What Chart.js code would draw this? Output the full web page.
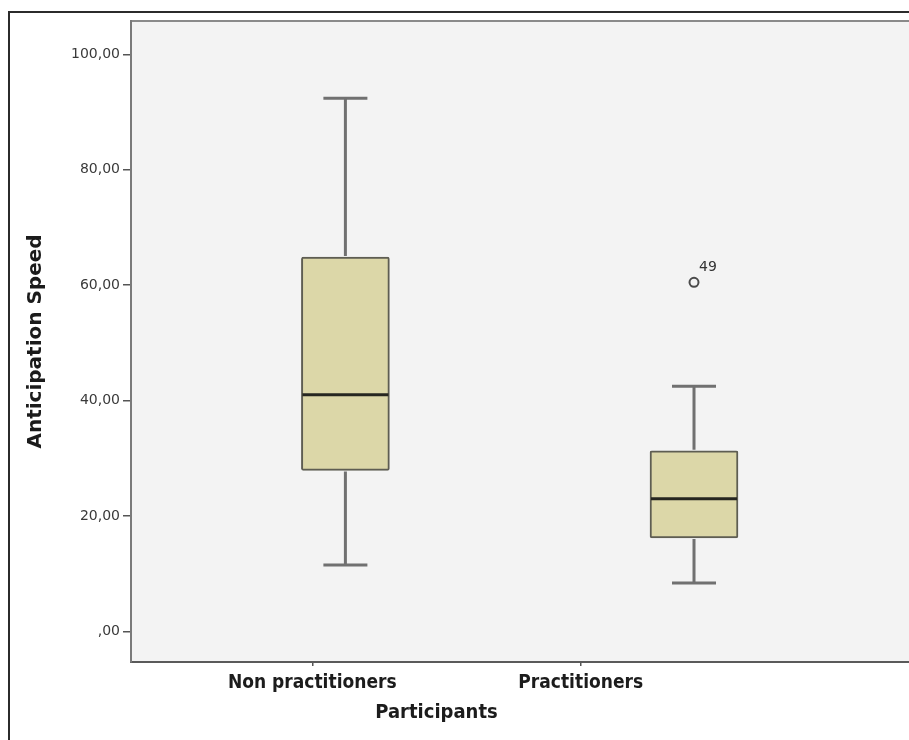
<!DOCTYPE html>
<html>
<head>
<meta charset="utf-8">
<title>Anticipation Speed by Participants</title>
<script src="https://cdn.jsdelivr.net/npm/chart.js@4.4.1/dist/chart.umd.min.js"></script>
<style>
    html, body { margin: 0; padding: 0; background: #fff; overflow: hidden; }
    #frame {
        position: absolute; left: 8px; top: 11px; width: 1000px; height: 800px;
        border-left: 2px solid #2b2b2b; border-top: 2px solid #2b2b2b;
    }
    #chart { position: absolute; left: 0; top: 0; }
</style>
</head>
<body>
<div id="frame"></div>
<canvas id="chart" width="940" height="740"></canvas>
<script>
// Datos del diagrama de caja
const groups = ["Non practitioners", "Practitioners"];
const groupX = [1, 2];
const whiskerLow = [11.5, 8.4];
const q1 = [27.9, 16.2];
const median = [41.0, 23.0];
const q3 = [64.9, 31.3];
const whiskerHigh = [92.4, 42.5];
const outlierGroup = [2];
const outlierValues = [60.5];
const outlierIds = ["49"];
const yTicks = [0, 20, 40, 60, 80, 100];
const xTitle = "Participants";
const yTitle = "Anticipation Speed";

// Posición de las etiquetas del eje X (como en el original, no centradas en las cajas)
const labelAt = [0.905, 1.675];

function formatComma(v) {
    const s = v.toFixed(2).replace(".", ",");
    return v === 0 ? s.slice(1) : s;
}

// Bigotes, mediana, etiqueta del atípico y título del eje X
const boxPlot = {
    id: "boxPlot",
    beforeDraw(chart) {
        const { ctx, chartArea: a } = chart;
        ctx.save();
        ctx.fillStyle = "#f3f3f3";
        ctx.fillRect(a.left, a.top, a.right - a.left, a.bottom - a.top);
        ctx.strokeStyle = "#8a8a8a";
        ctx.lineWidth = 2;
        ctx.beginPath();
        ctx.moveTo(a.left, a.top);
        ctx.lineTo(a.right, a.top);
        ctx.stroke();
        ctx.restore();
    },
    afterDatasetsDraw(chart) {
        const { ctx, scales } = chart;
        const y = scales.y;
        const bars = chart.getDatasetMeta(0).data;
        ctx.save();
        bars.forEach((bar, i) => {
            const cx = bar.x;
            const half = bar.width / 2;
            const cap = bar.width / 4;
            const yLo = y.getPixelForValue(whiskerLow[i]);
            const yQ1 = y.getPixelForValue(q1[i]);
            const yQ3 = y.getPixelForValue(q3[i]);
            const yHi = y.getPixelForValue(whiskerHigh[i]);
            const yMed = y.getPixelForValue(median[i]);

            ctx.strokeStyle = "#707070";
            ctx.lineWidth = 3;
            ctx.beginPath();
            ctx.moveTo(cx, yQ3 - 1); ctx.lineTo(cx, yHi);
            ctx.moveTo(cx, yQ1 + 1); ctx.lineTo(cx, yLo);
            ctx.moveTo(cx - cap, yHi); ctx.lineTo(cx + cap, yHi);
            ctx.moveTo(cx - cap, yLo); ctx.lineTo(cx + cap, yLo);
            ctx.stroke();

            ctx.strokeStyle = "#262620";
            ctx.lineWidth = 3;
            ctx.beginPath();
            ctx.moveTo(cx - half + 1, yMed);
            ctx.lineTo(cx + half - 1, yMed);
            ctx.stroke();
        });

        const pts = chart.getDatasetMeta(1).data;
        ctx.fillStyle = "#333";
        ctx.font = "14px 'DejaVu Sans'";
        ctx.textAlign = "left";
        ctx.textBaseline = "middle";
        pts.forEach((p, i) => {
            ctx.fillText(outlierIds[i], p.x + 5, p.y - 15);
        });

        const x = scales.x;
        const tx = (x.getPixelForValue(labelAt[0]) + x.getPixelForValue(labelAt[1])) / 2 - 10;
        ctx.fillStyle = "#1c1c1c";
        ctx.font = "bold 20px 'Liberation Sans Narrow', 'DejaVu Sans Condensed', sans-serif";
        ctx.textAlign = "center";
        ctx.fillText(xTitle, tx, chart.chartArea.bottom + 51);
        ctx.restore();
    }
};

const ctx = document.getElementById("chart").getContext("2d");
new Chart(ctx, {
    type: "bar",
    data: {
        datasets: [
            {
                type: "bar",
                data: groupX.map((x, i) => ({ x: x, y: [q1[i], q3[i]] })),
                backgroundColor: "#dcd7a8",
                borderColor: "#5e5d52",
                borderWidth: 2,
                borderSkipped: false,
                borderRadius: 2,
                barThickness: 88,
            },
            {
                type: "scatter",
                data: outlierValues.map((v, i) => ({ x: outlierGroup[i], y: v })),
                pointRadius: 4.5,
                pointBorderWidth: 2,
                pointBackgroundColor: "#f3f3f3",
                pointBorderColor: "#4a4a4a",
            },
        ],
    },
    options: {
        responsive: false,
        animation: false,
        layout: { padding: { left: 20, top: 21, right: 0, bottom: 0 } },
        plugins: { legend: { display: false }, tooltip: { enabled: false } },
        scales: {
            x: {
                type: "linear",
                offset: false,
                min: 0.385,
                max: 2.687,
                afterBuildTicks: (s) => { s.ticks = labelAt.map((v) => ({ value: v })); },
                afterFit: (s) => { s.height = 78; },
                grid: { offset: false, drawOnChartArea: false, tickLength: 4, color: "#555", lineWidth: 1.5 },
                border: { display: true, color: "#5a5a5a", width: 2 },
                ticks: {
                    padding: 6,
                    autoSkip: false,
                    maxRotation: 0,
                    color: "#1c1c1c",
                    font: { family: "'Liberation Sans Narrow', 'DejaVu Sans Condensed', sans-serif", weight: "bold", size: 19 },
                    callback: (v, i) => groups[i],
                },
            },
            y: {
                min: -5.3,
                max: 105.8,
                afterBuildTicks: (s) => { s.ticks = yTicks.map((v) => ({ value: v })); },
                afterFit: (s) => { s.width = 111; },
                grid: { drawOnChartArea: false, tickLength: 8, color: "#555", lineWidth: 1.5 },
                border: { display: true, color: "#7a7a7a", width: 2 },
                ticks: {
                    padding: 3,
                    color: "#3a3a3a",
                    font: { family: "'DejaVu Sans'", size: 14 },
                    callback: (v) => formatComma(v),
                },
                title: {
                    display: true,
                    text: yTitle,
                    color: "#1b1b1b",
                    font: { family: "'DejaVu Sans'", weight: "bold", size: 20 },
                    padding: { top: 4, bottom: 0 },
                },
            },
        },
    },
    plugins: [boxPlot],
});
</script>
</body>
</html>
